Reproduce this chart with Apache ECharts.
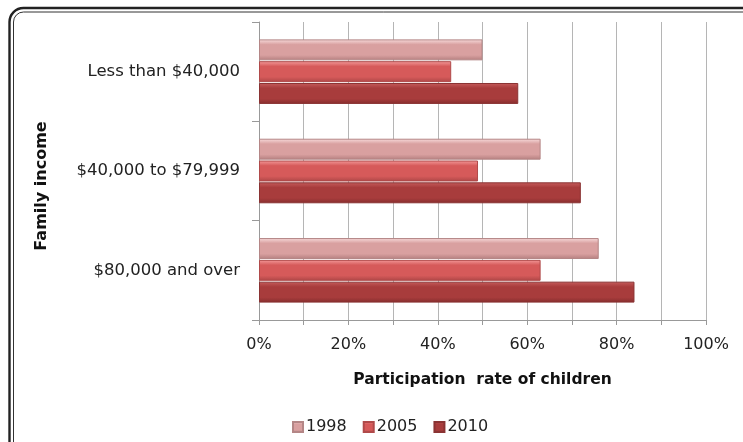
<!DOCTYPE html>
<html>
<head>
<meta charset="utf-8">
<script src="https://cdn.jsdelivr.net/npm/echarts@6/dist/echarts.min.js"></script>
<style>
html,body{margin:0;padding:0;background:#fff;}
#chart{width:743px;height:442px;}
</style>
</head>
<body>
<div id="chart"></div>
<script>
var categories = ['Less than $40,000', '$40,000 to $79,999', '$80,000 and over'];
var seriesNames = ['1998', '2005', '2010'];
var values1998 = [50, 63, 76];
var values2005 = [43, 49, 63];
var values2010 = [58, 72, 84];
var xTickLabels = ['0%', '20%', '40%', '60%', '80%', '100%'];

function grad(top, mid, bottom) {
  return new echarts.graphic.LinearGradient(0, 0, 0, 1, [
    {offset: 0, color: top},
    {offset: 0.25, color: mid},
    {offset: 0.75, color: mid},
    {offset: 1, color: bottom}
  ]);
}
var styles = [
  {color: grad('#f8dcdc', '#d9a0a0', '#b47f7f'), borderColor: '#b48686'},
  {color: grad('#f49a9a', '#d65a5a', '#ad4646'), borderColor: '#b04a4a'},
  {color: grad('#c65c5c', '#a83c3c', '#862d2d'), borderColor: '#8a3333'}
];
var dataSets = [values1998, values2005, values2010];
var fontFam = '"DejaVu Sans", Verdana, sans-serif';

var chart = echarts.init(document.getElementById('chart'));
chart.setOption({
  animation: false,
  backgroundColor: '#fff',
  textStyle: {fontFamily: fontFam},
  grid: {left: 259, right: 37, top: 22, bottom: 122, containLabel: false},
  legend: {
    data: seriesNames,
    left: 287,
    top: 414,
    itemWidth: 10,
    itemHeight: 10,
    itemGap: 16,
    icon: 'rect',
    textStyle: {fontSize: 16, color: '#222', fontFamily: fontFam, padding: [0, 0, 0, -2]}
  },
  xAxis: {
    type: 'value',
    min: 0,
    max: 100,
    interval: 10,
    name: 'Participation  rate of children',
    nameLocation: 'middle',
    nameGap: 52,
    nameTextStyle: {fontSize: 15.5, fontWeight: 'bold', color: '#111', fontFamily: fontFam},
    axisLine: {show: true, lineStyle: {color: '#999', width: 1}},
    axisTick: {show: true, length: 5, lineStyle: {color: '#999'}},
    splitLine: {show: true, lineStyle: {color: '#b5b5b5', width: 1}},
    axisLabel: {
      fontSize: 16,
      color: '#222',
      margin: 17,
      formatter: function (v) {
        if (v % 20 !== 0) return '';
        return xTickLabels[v / 20];
      }
    }
  },
  yAxis: {
    type: 'category',
    data: categories,
    inverse: true,
    axisLine: {show: true, lineStyle: {color: '#999', width: 1}},
    axisTick: {show: true, length: 7, lineStyle: {color: '#999'}},
    axisLabel: {fontSize: 16.5, color: '#222', margin: 19}
  },
  graphic: [
    {type: 'rect', silent: true, shape: {x: 9.5, y: 8, width: 800, height: 500, r: 14},
     style: {fill: null, stroke: '#222', lineWidth: 2.4}},
    {type: 'rect', silent: true, shape: {x: 13.5, y: 12, width: 800, height: 500, r: 10},
     style: {fill: null, stroke: '#333', lineWidth: 1}},
    {type: 'text', silent: true, x: 42, y: 186, rotation: Math.PI / 2,
     style: {text: 'Family income', fontSize: 16, fontWeight: 'bold', fill: '#111',
             fontFamily: fontFam, align: 'center', verticalAlign: 'middle'}}
  ],
  series: seriesNames.map(function (name, i) {
    return {
      name: name,
      type: 'bar',
      data: dataSets[i],
      barCategoryGap: '35%',
      barGap: '4%',
      itemStyle: {color: styles[i].color, borderColor: styles[i].borderColor, borderWidth: 1}
    };
  })
});
</script>
</body>
</html>
